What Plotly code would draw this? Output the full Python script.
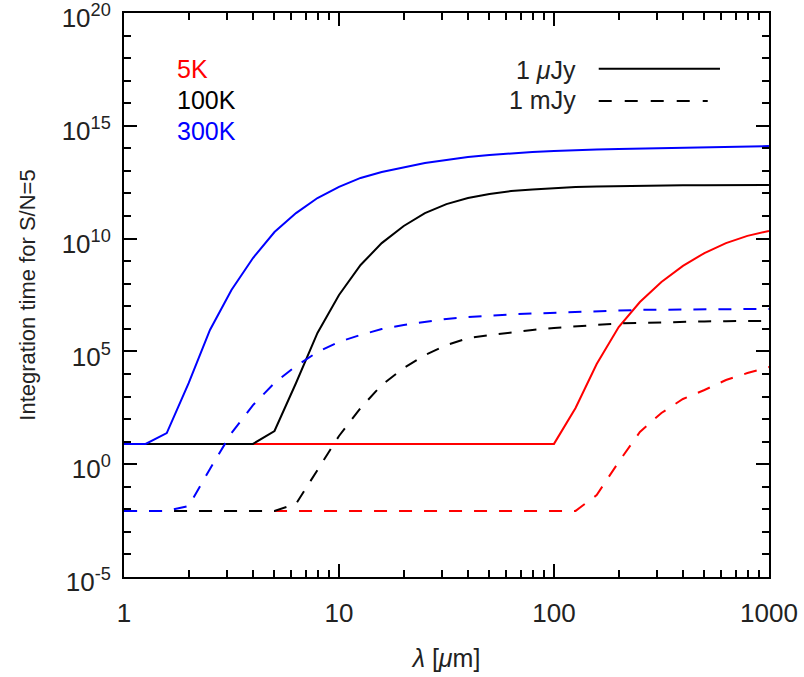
import plotly.graph_objects as go

# wavelength grid [micron]
wavelength = [1.0, 1.26, 1.58, 2.0, 2.51, 3.16, 3.98, 5.01, 6.31, 7.94,
              10.0, 12.6, 15.8, 20.0, 25.1, 31.6, 39.8, 50.1, 63.1, 79.4,
              100.0, 126.0, 158.0, 200.0, 251.0, 316.0, 398.0, 501.0, 631.0, 794.0, 1000.0]

# log10 integration time [s] for S/N=5
log_t_300K_uJy = [0.90, 0.90, 1.38, 3.60, 5.95, 7.72, 9.14, 10.29, 11.13, 11.80,
                  12.29, 12.69, 12.95, 13.17, 13.35, 13.48, 13.62, 13.71, 13.79, 13.84,
                  13.88, 13.93, 13.95, 13.97, 13.99, 14.02, 14.04, 14.06, 14.08, 14.10, 14.10]
log_t_100K_uJy = [0.90, 0.90, 0.90, 0.90, 0.90, 0.90, 0.90, 1.47, 3.60, 5.82,
                  7.50, 8.83, 9.80, 10.56, 11.13, 11.53, 11.80, 11.98, 12.11, 12.18,
                  12.24, 12.29, 12.31, 12.33, 12.34, 12.35, 12.36, 12.36, 12.37, 12.37, 12.38]
log_t_5K_uJy = [0.90] * 21 + [2.49, 4.44, 6.08, 7.19, 8.08, 8.79, 9.36, 9.80, 10.12, 10.34]

log_t_300K_mJy = [-2.07, -2.07, -2.07, -1.85, -0.21, 1.38, 2.62, 3.60, 4.35, 4.97,
                  5.42, 5.73, 5.99, 6.17, 6.30, 6.44, 6.52, 6.59, 6.64, 6.68,
                  6.72, 6.75, 6.79, 6.81, 6.84, 6.84, 6.86, 6.87, 6.87, 6.88, 6.88]
log_t_100K_mJy = [-2.07, -2.07, -2.07, -2.07, -2.07, -2.07, -2.07, -2.07, -1.76, -0.26,
                  1.25, 2.49, 3.51, 4.26, 4.84, 5.28, 5.59, 5.72, 5.85, 5.95,
                  6.04, 6.10, 6.19, 6.24, 6.26, 6.29, 6.31, 6.33, 6.34, 6.35, 6.35]
log_t_5K_mJy = [-2.07] * 22 + [-1.37, 0.10, 1.43, 2.27, 2.89, 3.29, 3.73, 4.04, 4.31]

series = [
    ("5K, 1 μJy", log_t_5K_uJy, "#ff0000", "solid"),
    ("100K, 1 μJy", log_t_100K_uJy, "#000000", "solid"),
    ("300K, 1 μJy", log_t_300K_uJy, "#0000ff", "solid"),
    ("5K, 1 mJy", log_t_5K_mJy, "#ff0000", "13px,12px"),
    ("100K, 1 mJy", log_t_100K_mJy, "#000000", "13px,12px"),
    ("300K, 1 mJy", log_t_300K_mJy, "#0000ff", "13px,12px"),
]

y_major = [1e-5, 1e0, 1e5, 1e10, 1e15, 1e20]
y_major_text = ["10<sup>-5</sup>", "10<sup>0</sup>", "10<sup>5</sup>",
                "10<sup>10</sup>", "10<sup>15</sup>", "10<sup>20</sup>"]
y_minor = [10.0 ** e for e in range(-5, 21) if e % 5 != 0]
x_major = [1, 10, 100, 1000]
x_minor = [m * d for d in (1, 10, 100) for m in range(2, 10)]

fig = go.Figure()
# empty trace that carries the minor-tick axes
fig.add_trace(go.Scatter(x=[], y=[], xaxis="x2", yaxis="y2", showlegend=False, hoverinfo="skip"))
for name, logt, color, dash in series:
    fig.add_trace(go.Scatter(
        x=wavelength, y=[10 ** v for v in logt], mode="lines", name=name,
        line=dict(color=color, width=2, dash=dash), showlegend=False))

font_main = "Liberation Sans, Arial, Helvetica, sans-serif"
xr = [-0.0002, 3.0002]
yr = [-5.001, 20.001]

fig.update_layout(
    width=804, height=677,
    margin=dict(l=124, r=35, t=13, b=100, autoexpand=False),
    paper_bgcolor="white", plot_bgcolor="white",
    font=dict(family=font_main, size=26, color="#222222"),
    xaxis=dict(
        type="log", range=xr, showgrid=False, zeroline=False,
        showline=True, linecolor="black", linewidth=2, mirror="allticks",
        ticks="inside", ticklen=13, tickwidth=2, tickcolor="black",
        tickmode="array", tickvals=x_major, ticktext=[str(v) for v in x_major],
        ticklabelstandoff=12, automargin=False, ticklabeloverflow="allow",
        title=dict(text="<i>λ</i> [<i>μ</i>m]", font=dict(size=25), standoff=22),
    ),
    yaxis=dict(
        type="log", range=yr, showgrid=False, zeroline=False,
        showline=True, linecolor="black", linewidth=2, mirror="allticks",
        ticks="inside", ticklen=13, tickwidth=2, tickcolor="black",
        tickmode="array", tickvals=y_major, ticktext=y_major_text,
        ticklabelstandoff=6, ticklabelshift=5, automargin=False, ticklabeloverflow="allow",
        title=dict(text="Integration time for S/N=5", font=dict(size=22), standoff=20),
    ),
    xaxis2=dict(
        type="log", range=xr, overlaying="x", side="bottom", anchor="y2",
        showgrid=False, zeroline=False, showline=True, linecolor="black", linewidth=2,
        mirror="allticks", ticks="inside", ticklen=7, tickwidth=2, tickcolor="black",
        tickmode="array", tickvals=x_minor, showticklabels=False, automargin=False,
    ),
    yaxis2=dict(
        type="log", range=yr, overlaying="y", side="left", anchor="x2",
        showgrid=False, zeroline=False, showline=True, linecolor="black", linewidth=2,
        mirror="allticks", ticks="inside", ticklen=7, tickwidth=2, tickcolor="black",
        tickmode="array", tickvals=y_minor, showticklabels=False, automargin=False,
    ),
)

# temperature labels
for txt, col, yp in [("5K", "#ff0000", 0.901), ("100K", "#000000", 0.846), ("300K", "#0000ff", 0.791)]:
    fig.add_annotation(x=0.079, y=yp, xref="paper", yref="paper", text=txt,
                       showarrow=False, xanchor="left", yanchor="middle",
                       font=dict(size=25, color=col, family=font_main))

# flux legend
for txt, yp in [("1 <i>μ</i>Jy", 0.899), ("1 mJy", 0.846)]:
    fig.add_annotation(x=0.704, y=yp, xref="paper", yref="paper", text=txt,
                       showarrow=False, xanchor="right", yanchor="middle",
                       font=dict(size=25, color="#222222", family=font_main))
fig.add_shape(type="line", xref="paper", yref="paper", x0=0.736, x1=0.924, y0=0.901, y1=0.901,
              line=dict(color="black", width=2))
fig.add_shape(type="line", xref="paper", yref="paper", x0=0.736, x1=0.905, y0=0.844, y1=0.844,
              line=dict(color="black", width=2, dash="13px,13px"))

fig.write_html("out.html", config={"displayModeBar": False},
               post_script="document.body.style.margin='0px';")
